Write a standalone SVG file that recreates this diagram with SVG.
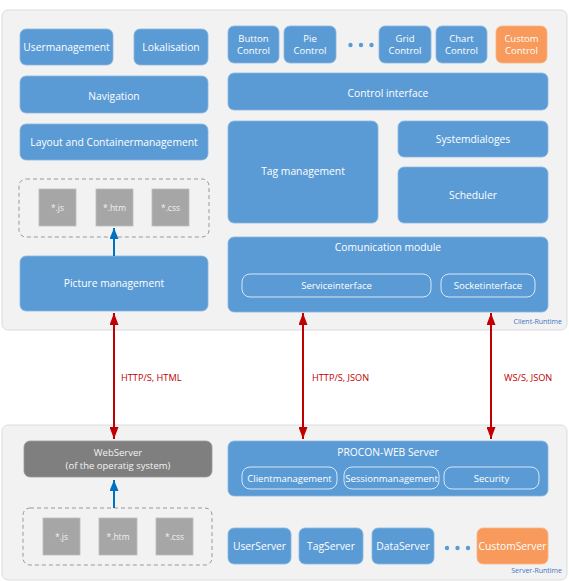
<svg xmlns="http://www.w3.org/2000/svg" width="569" height="581" viewBox="0 0 569 581">
<defs>
<style>
.panel{fill:#F2F2F2;stroke:#DCDCDC;stroke-width:1}
.b{fill:#5B9BD5;stroke:#8AB6E0;stroke-width:0.8}
.o{fill:#F79A5B;stroke:#F9B586;stroke-width:0.8}
.g{fill:#A6A6A6;stroke:#BDBDBD;stroke-width:0.8}
.dg{fill:#7F7F7F;stroke:#999;stroke-width:0.8}
.sub{fill:none;stroke:#D6E6F5;stroke-width:1}
.dash{fill:none;stroke:#999;stroke-width:1;stroke-dasharray:4 3}
text{font-family:"Open Sans","Liberation Sans",sans-serif;fill:#fff;text-anchor:middle;font-size:10.3px}
.s{font-size:9.5px}
.f{font-size:8.5px}
.dt{fill:#F2F2F2}
.red{fill:#C00000;font-size:9.2px;text-anchor:start}
.rt{fill:#4472C4;font-size:7px;text-anchor:end}
.rl{stroke:#C00000;stroke-width:2;fill:none}
.bl{stroke:#0070C0;stroke-width:2;fill:none}
.dot{fill:#5B9BD5}
</style>
<marker id="ra" viewBox="0 0 12 9" refX="12" refY="4.5" markerWidth="6" markerHeight="4.5" orient="auto-start-reverse" markerUnits="strokeWidth"><path d="M0,0 L12,4.5 L0,9 z" fill="#C00000"/></marker>
<marker id="ba" viewBox="0 0 11 9" refX="11" refY="4.5" markerWidth="5.5" markerHeight="4.5" orient="auto" markerUnits="strokeWidth"><path d="M0,0 L11,4.5 L0,9 z" fill="#0070C0"/></marker>
</defs>

<g id="client-runtime">
<rect class="panel" x="2" y="10" width="565" height="320" rx="6"/>
<text class="rt" x="562" y="324">Client-Runtime</text>
</g>
<g id="server-runtime">
<rect class="panel" x="2" y="425" width="565" height="155" rx="6"/>
<text class="rt" x="562" y="573">Server-Runtime</text>
</g>

<g id="usermanagement"><rect class="b" x="20" y="29" width="93" height="36" rx="6"/><text x="66.5" y="50.5">Usermanagement</text></g>
<g id="lokalisation"><rect class="b" x="134" y="29" width="74" height="36" rx="6"/><text x="171" y="50.5">Lokalisation</text></g>
<g id="navigation"><rect class="b" x="20" y="76" width="188" height="37" rx="6"/><text x="114" y="99.5">Navigation</text></g>
<g id="layout"><rect class="b" x="20" y="124" width="188" height="36" rx="6"/><text x="114" y="145.5">Layout and Containermanagement</text></g>

<g id="client-files">
<rect class="dash" x="19" y="179" width="190" height="58" rx="7"/>
<g id="c-js"><rect class="g" x="39" y="189" width="37" height="37"/><text class="f dt" x="57.5" y="211">*.js</text></g>
<g id="c-htm"><rect class="g" x="96" y="189" width="37" height="37"/><text class="f dt" x="114.5" y="211">*.htm</text></g>
<g id="c-css"><rect class="g" x="152" y="189" width="37" height="37"/><text class="f dt" x="170.5" y="211">*.css</text></g>
</g>
<g id="picture-management"><rect class="b" x="20" y="256" width="188" height="55" rx="6"/><text x="114" y="287">Picture management</text></g>

<g id="button-control"><rect class="b" x="228" y="26" width="51" height="37" rx="6"/><text class="s" x="253.5" y="41.5">Button</text><text class="s" x="253.5" y="54">Control</text></g>
<g id="pie-control"><rect class="b" x="284" y="26" width="52" height="37" rx="6"/><text class="s" x="310" y="41.5">Pie</text><text class="s" x="310" y="54">Control</text></g>
<g id="dots-top"><circle class="dot" cx="350.5" cy="45" r="2.2"/><circle class="dot" cx="361" cy="45" r="2.2"/><circle class="dot" cx="371.5" cy="45" r="2.2"/></g>
<g id="grid-control"><rect class="b" x="379" y="26" width="52" height="37" rx="6"/><text class="s" x="405" y="41.5">Grid</text><text class="s" x="405" y="54">Control</text></g>
<g id="chart-control"><rect class="b" x="436" y="26" width="51" height="37" rx="6"/><text class="s" x="461.5" y="41.5">Chart</text><text class="s" x="461.5" y="54">Control</text></g>
<g id="custom-control"><rect class="o" x="496" y="26" width="51" height="37" rx="6"/><text class="s" x="521.5" y="41.5">Custom</text><text class="s" x="521.5" y="54">Control</text></g>

<g id="control-interface"><rect class="b" x="228" y="73" width="320" height="37" rx="6"/><text x="388" y="97">Control interface</text></g>
<g id="tag-management"><rect class="b" x="228" y="121" width="150" height="102" rx="6"/><text x="303" y="175">Tag management</text></g>
<g id="systemdialoges"><rect class="b" x="398" y="121" width="150" height="36" rx="6"/><text x="473" y="142.5">Systemdialoges</text></g>
<g id="scheduler"><rect class="b" x="398" y="167" width="150" height="56" rx="6"/><text x="473" y="198.5">Scheduler</text></g>
<g id="comunication-module"><rect class="b" x="228" y="237" width="320" height="75" rx="6"/><text x="388" y="251">Comunication module</text>
<g id="serviceinterface"><rect class="sub" x="242" y="274" width="189" height="23" rx="8"/><text class="s" x="336.5" y="289">Serviceinterface</text></g>
<g id="socketinterface"><rect class="sub" x="441" y="274" width="94" height="23" rx="8"/><text class="s" x="488" y="289">Socketinterface</text></g>
</g>

<g id="webserver"><rect class="dg" x="24" y="441" width="188" height="36" rx="6"/><text class="s dt" x="118" y="456">WebServer</text><text class="s dt" x="118" y="469">(of the operatig system)</text></g>
<g id="server-files">
<rect class="dash" x="23" y="508" width="189" height="57" rx="7"/>
<g id="s-js"><rect class="g" x="43" y="518" width="37" height="37"/><text class="f dt" x="61.5" y="540">*.js</text></g>
<g id="s-htm"><rect class="g" x="99" y="518" width="38" height="37"/><text class="f dt" x="118" y="540">*.htm</text></g>
<g id="s-css"><rect class="g" x="156" y="518" width="37" height="37"/><text class="f dt" x="174.5" y="540">*.css</text></g>
</g>

<g id="procon-web-server"><rect class="b" x="228" y="441" width="320" height="55" rx="6"/><text x="388" y="455.5">PROCON-WEB Server</text>
<g id="clientmanagement"><rect class="sub" x="242" y="467" width="95" height="22" rx="8"/><text class="s" x="289.5" y="481.5">Clientmanagement</text></g>
<g id="sessionmanagement"><rect class="sub" x="344" y="467" width="95" height="22" rx="8"/><text class="s" x="391.5" y="481.5">Sessionmanagement</text></g>
<g id="security"><rect class="sub" x="444" y="467" width="95" height="22" rx="8"/><text class="s" x="491.5" y="481.5">Security</text></g>
</g>

<g id="userserver"><rect class="b" x="228" y="528" width="63" height="36" rx="6"/><text x="259.5" y="549.5">UserServer</text></g>
<g id="tagserver"><rect class="b" x="299" y="528" width="64" height="36" rx="6"/><text x="331" y="549.5">TagServer</text></g>
<g id="dataserver"><rect class="b" x="372" y="528" width="62" height="36" rx="6"/><text x="403" y="549.5">DataServer</text></g>
<g id="dots-bottom"><circle class="dot" cx="447" cy="548" r="2.2"/><circle class="dot" cx="457.5" cy="548" r="2.2"/><circle class="dot" cx="468" cy="548" r="2.2"/></g>
<g id="customserver"><rect class="o" x="477" y="528" width="71" height="36" rx="6"/><text x="512.5" y="549.5">CustomServer</text></g>

<g id="connectors">
<line class="rl" x1="114" y1="313" x2="114" y2="439" marker-start="url(#ra)" marker-end="url(#ra)"/>
<line class="rl" x1="303" y1="313" x2="303" y2="439" marker-start="url(#ra)" marker-end="url(#ra)"/>
<line class="rl" x1="491" y1="313" x2="491" y2="439" marker-start="url(#ra)" marker-end="url(#ra)"/>
<line class="bl" x1="114" y1="256" x2="114" y2="228" marker-end="url(#ba)"/>
<line class="bl" x1="114" y1="508" x2="114" y2="480" marker-end="url(#ba)"/>
<text class="red" x="121" y="381">HTTP/S, HTML</text>
<text class="red" x="312" y="381">HTTP/S, JSON</text>
<text class="red" x="504" y="381">WS/S, JSON</text>
</g>
</svg>
